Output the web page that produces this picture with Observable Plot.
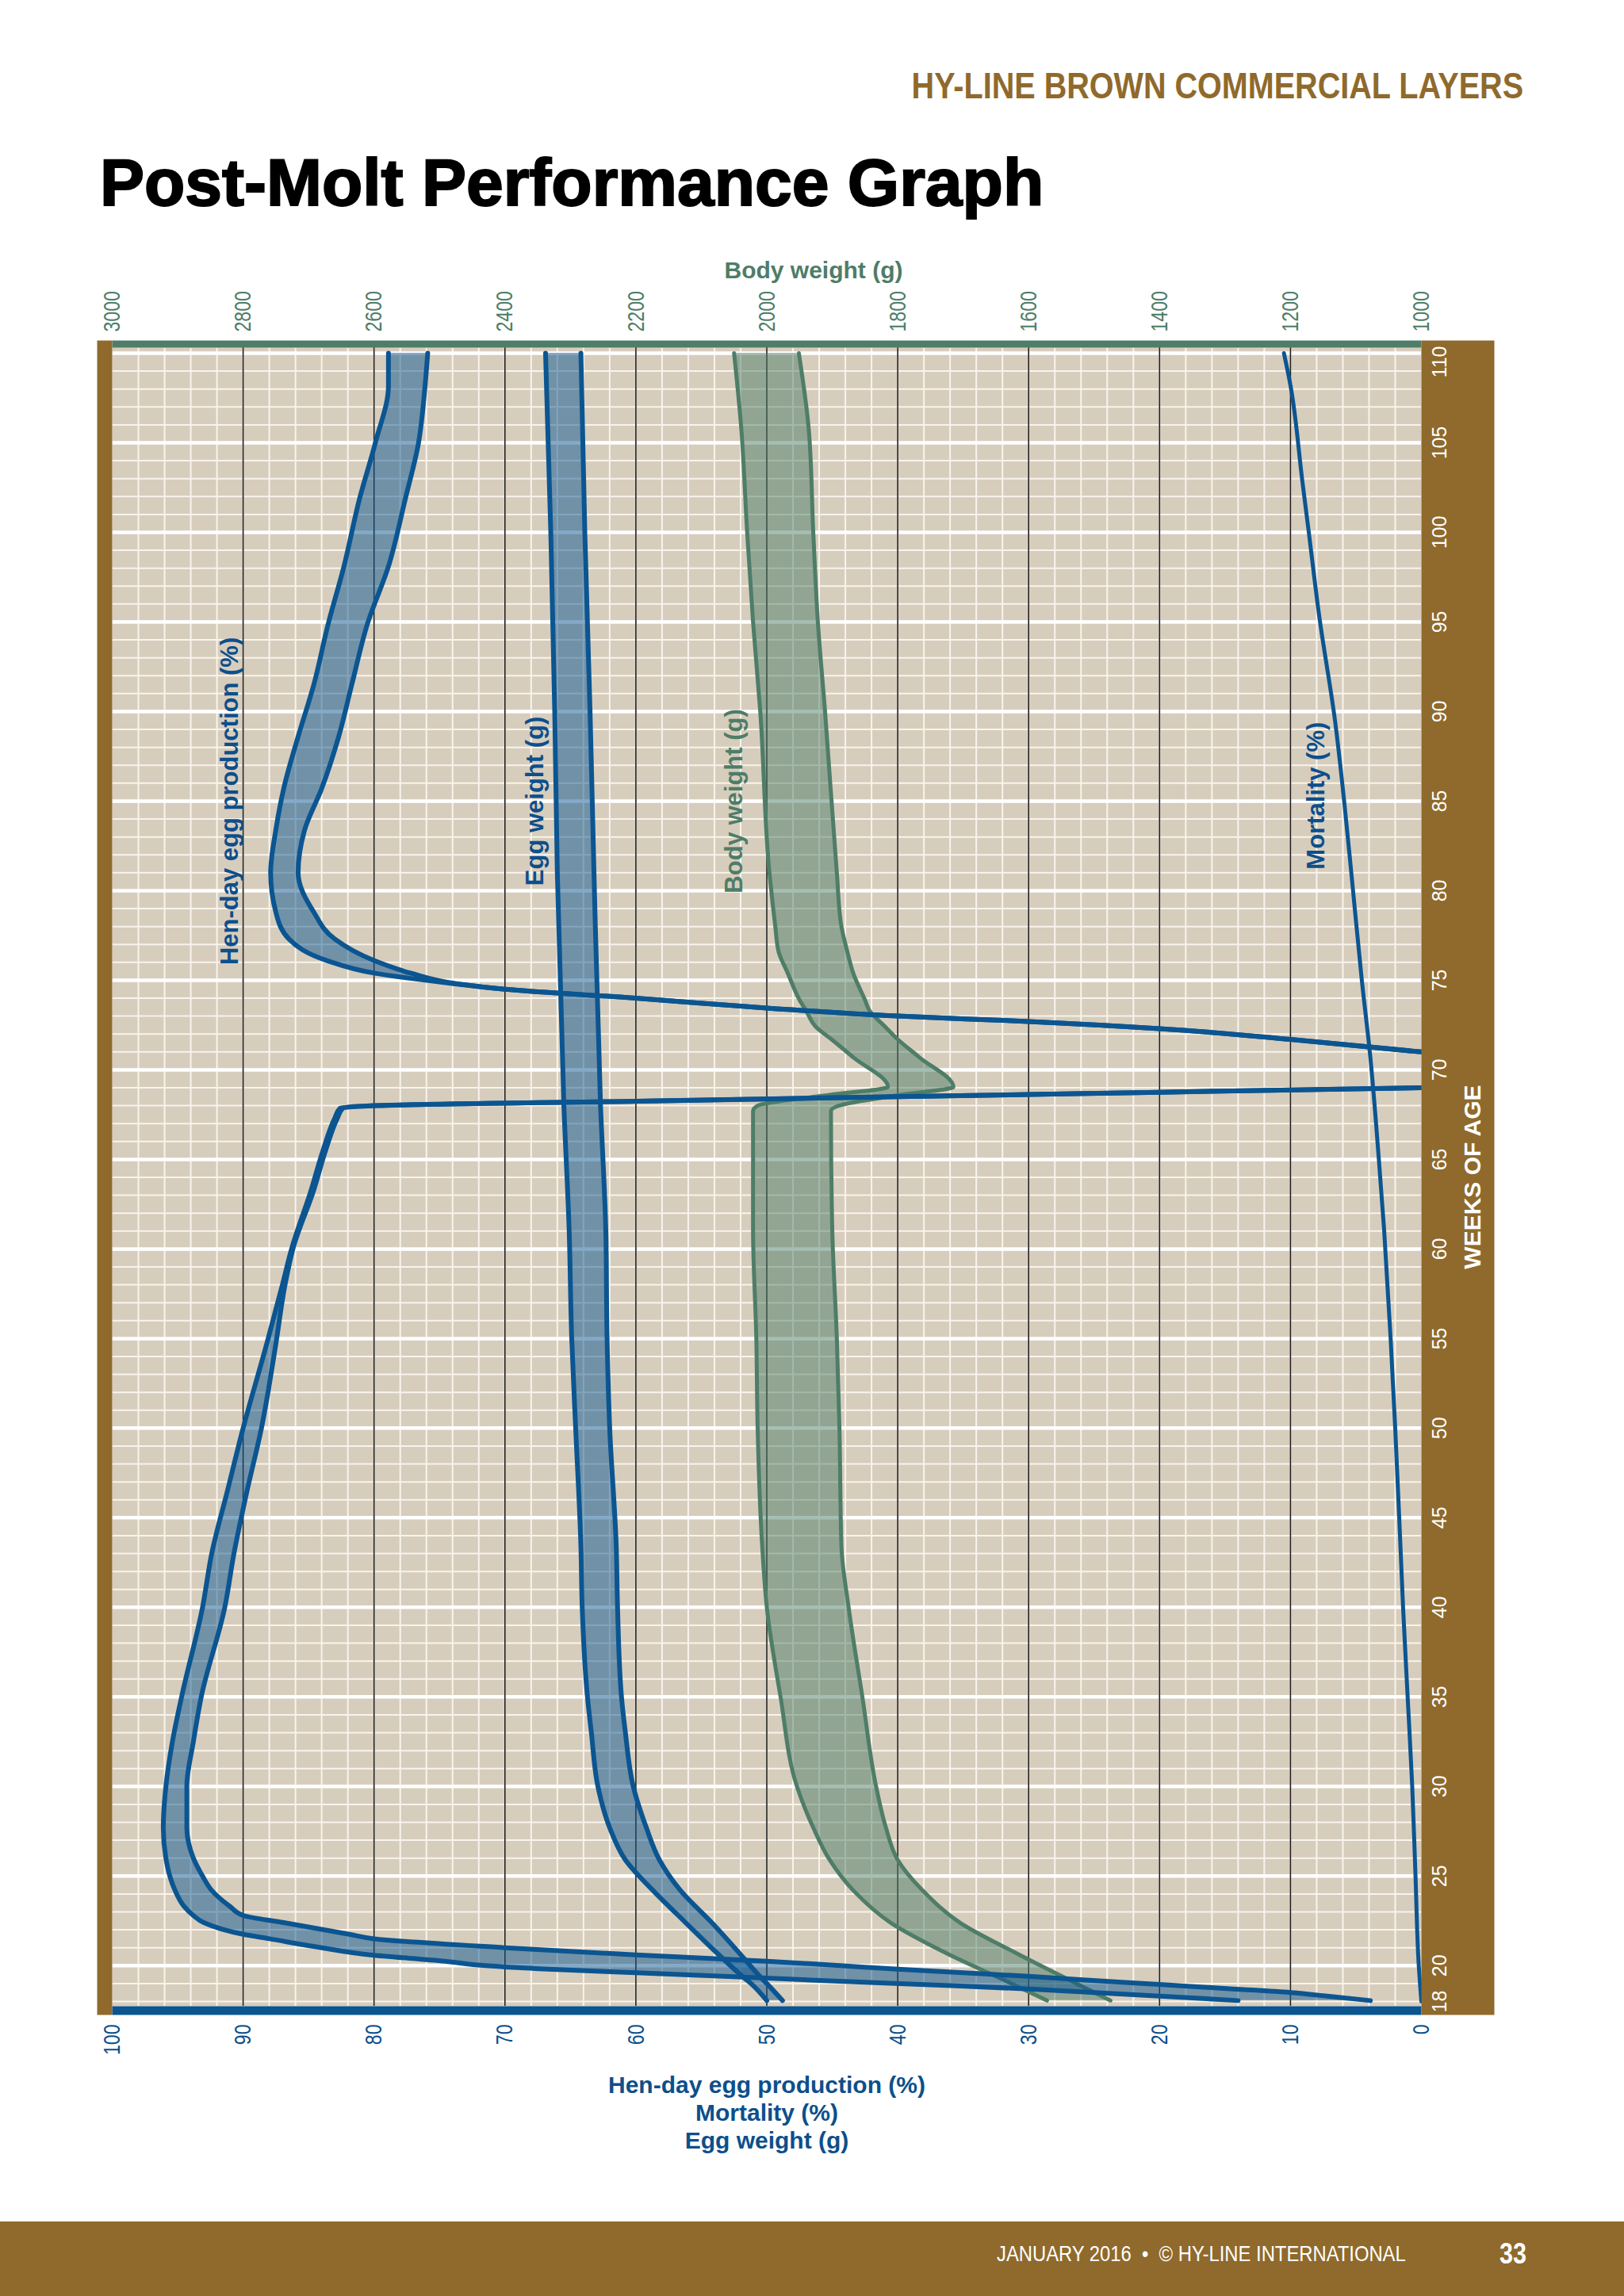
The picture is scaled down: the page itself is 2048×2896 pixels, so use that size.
<!DOCTYPE html>
<html>
<head>
<meta charset="utf-8">
<script src="https://cdn.jsdelivr.net/npm/d3@7"></script>
<script src="https://cdn.jsdelivr.net/npm/@observablehq/plot@0.6"></script>
<style>
html, body { margin: 0; padding: 0; background: #ffffff; }
body { width: 2048px; height: 2896px; position: relative; overflow: hidden; font-family: "Liberation Sans", Arial, sans-serif; }
#header { position: absolute; right: 127px; top: 85px; font-size: 46px; line-height: 46px; font-weight: bold; color: #8f6a2c; white-space: nowrap; transform: scaleX(0.86); transform-origin: right center; }
#title { position: absolute; left: 126px; top: 188px; font-size: 84px; line-height: 84px; font-weight: bold; color: #000; white-space: nowrap; -webkit-text-stroke: 2px #000; }
#chart { position: absolute; left: 0; top: 290px; }
#footer { position: absolute; left: 0; top: 2802px; width: 2048px; height: 94px; background: #8f6a2c; }
#footText { position: absolute; right: 275px; top: 27px; font-size: 28px; line-height: 28px; color: #fff; white-space: pre; transform: scaleX(0.85); transform-origin: right center; }
#pageNum { position: absolute; right: 123px; top: 23px; font-size: 36px; line-height: 36px; font-weight: bold; color: #fff; transform: scaleX(0.85); transform-origin: right center; }
</style>
</head>
<body>
<div id="header">HY-LINE BROWN COMMERCIAL LAYERS</div>
<div id="title">Post-Molt Performance Graph</div>
<div id="chart"></div>
<div id="footer"><div id="footText">JANUARY 2016  •  © HY-LINE INTERNATIONAL</div><div id="pageNum">33</div></div>
<script>
// ---------- DATA ----------
// Hen-day egg production (%) — before molt (band: high / low)
const prodPreWeeks = [18.05, 18.3, 18.5, 18.7, 18.95, 19.2, 19.4, 19.6, 19.8, 20.0, 20.25, 20.6, 21.0, 21.5, 21.75, 22.4, 22.8, 23.3, 24.2, 25, 26, 27.7, 30, 32.5, 35, 40, 43, 46.5, 50, 54.7, 58, 60, 63.3, 65.5, 67.3, 67.85, 68.0, 68.25, 68.5, 68.75, 69.0];
const prodPreHigh  = [14, 20, 25, 30, 38.3, 46.7, 53.3, 60, 66.7, 71.5, 74.6, 80.3, 84, 88, 90, 93, 93.8, 94.5, 95.2, 95.6, 95.9, 96.1, 95.9, 95.4, 94.7, 93.1, 92.4, 91.2, 90.0, 88.2, 87.0, 86.3, 84.8, 83.9, 83.0, 82.6, 80.0, 60, 40, 20, 0];
const prodPreLow   = [3.9, 7.2, 10, 14.4, 20, 25.6, 30, 35, 40, 44.4, 50, 60, 70, 80, 81.9, 86.9, 90, 91.0, 92.4, 93.1, 93.8, 94.3, 94.3, 93.8, 93.2, 91.4, 90.7, 89.7, 88.6, 87.5, 86.8, 86.2, 84.6, 83.7, 82.8, 82.4, 79.8, 59.9, 40, 20, 0];
// Hen-day egg production (%) — after molt
const prodPostWeeks = [71.0, 71.7, 72.3, 72.7, 73.0, 73.45, 74.0, 74.5, 74.8, 75.4, 76.1, 77.3, 78.8, 81, 83.4, 85.7, 88.6, 91.5, 94.9, 98.1, 101.9, 105, 108.2, 110];
const prodPostHigh  = [0, 10, 20, 30, 40, 50, 60, 70, 73.8, 80, 83.6, 86.5, 87.5, 87.9, 87.5, 86.9, 85.8, 84.6, 83.5, 82.3, 81.1, 79.9, 78.9, 78.9];
const prodPostLow   = [0, 10, 20, 30, 40, 50, 60, 70, 73.6, 77.2, 80.0, 83.0, 84.6, 85.8, 85.3, 84.0, 82.7, 81.7, 80.5, 78.9, 77.6, 76.6, 76.1, 75.9];
// Egg weight (g)
const eggWeeks = [18.05, 19.0, 19.3, 20.7, 22.4, 24.2, 25.9, 27.7, 30, 33, 35, 40, 43.4, 50, 55, 61.1, 68, 81, 90, 100, 110];
const eggHigh  = [50.0, 51.2, 51.7, 53.8, 56.2, 58.7, 60.8, 62.0, 62.9, 63.4, 63.7, 64.1, 64.2, 64.6, 64.9, 65.1, 65.5, 66.0, 66.2, 66.5, 66.9];
const eggLow   = [48.8, 50.0, 50.4, 52.1, 54.2, 56.6, 58.2, 59.2, 60.2, 60.8, 61.1, 61.4, 61.5, 62.0, 62.2, 62.3, 62.7, 63.2, 63.5, 63.9, 64.2];
// Body weight (g)
const bwWeeks = [18.05, 19.0, 20.7, 22.4, 24.2, 25.9, 27.7, 30, 35, 40, 43.4, 50, 55, 61.1, 67.7, 68.0, 68.6, 69.05, 70.7, 71.7, 72.4, 73.3, 73.9, 75.4, 76.6, 78, 81, 90, 95, 100, 105.8, 110];
const bwHigh  = [1572, 1626, 1726, 1811, 1868, 1904, 1929, 1954, 1979, 2000, 2007, 2014, 2016, 2021, 2021, 2014, 1904, 1815, 1868, 1901, 1925, 1940, 1950, 1968, 1982, 1987, 1996, 2010, 2021, 2030, 2039, 2050];
const bwLow   = [1475, 1527, 1619, 1705, 1762, 1800, 1818, 1833, 1854, 1875, 1886, 1889, 1893, 1900, 1902, 1890, 1797, 1715, 1767, 1800, 1819, 1843, 1850, 1868, 1877, 1886, 1893, 1911, 1922, 1929, 1936, 1951];
// Mortality (%)
const mortWeeks  = [18, 20, 25, 30, 35, 40, 43.4, 50, 55, 61.1, 65, 70.7, 75, 80.6, 85, 89.5, 95.3, 100, 102.9, 108.2, 110];
const mortValues = [0, 0.2, 0.45, 0.7, 1.05, 1.4, 1.6, 2.0, 2.35, 2.85, 3.25, 3.9, 4.55, 5.3, 5.9, 6.6, 7.8, 8.6, 9.1, 10.0, 10.5];

// Axis ticks and labels
const pctTicks = [0, 10, 20, 30, 40, 50, 60, 70, 80, 90, 100];
const bwTicks = [1000, 1200, 1400, 1600, 1800, 2000, 2200, 2400, 2600, 2800, 3000];
const weekTicks = [18, 20, 25, 30, 35, 40, 45, 50, 55, 60, 65, 70, 75, 80, 85, 90, 95, 100, 105];
const lastWeekTick = [110];
const majorWeeks = [20, 25, 30, 35, 40, 45, 50, 55, 60, 65, 70, 75, 80, 85, 90, 95, 100, 105, 110];
const minorWeeks = d3.range(18, 111);
const minorPct = d3.range(2, 100, 2);
const blackPct = [10, 20, 30, 40, 50, 60, 70, 80, 90];

const blueLabels = [
  {text: "Hen-day egg production (%)", x: 91.0, w: 85},
  {text: "Egg weight (g)", x: 67.7, w: 85},
  {text: "Mortality (%)", x: 8.0, w: 85.3}
];
const greenLabels = [{text: "Body weight (g)", x: 52.5, w: 85}];
const topTitle = "Body weight (g)";
const bottomTitle = "Hen-day egg production (%)\nMortality (%)\nEgg weight (g)";
const sideTitle = "WEEKS OF AGE";

// ---------- BUILD ----------
const blue = "#0b5591", blueText = "#0d4f8b", green = "#4e7d68", brown = "#8f6a2c", tan = "#d7cdbd";
const zip = (weeks, hi, lo) => weeks.map((w, i) => ({w, hi: hi[i], lo: lo[i]}));
const prodPre = zip(prodPreWeeks, prodPreHigh, prodPreLow);
const prodPost = zip(prodPostWeeks, prodPostHigh, prodPostLow);
const egg = zip(eggWeeks, eggHigh, eggLow);
const bw = zip(bwWeeks, bwHigh, bwLow);
const mort = mortWeeks.map((w, i) => ({w, v: mortValues[i]}));
const bwToX = g => (g - 1000) / 20;
const xToBw = x => String(Math.round(1000 + 20 * x));
const curve = "monotone-y";

function band(data, conv, color, sw) {
  return [
    Plot.areaX(data, {y: "w", x1: d => conv(d.lo), x2: d => conv(d.hi), fill: color, fillOpacity: 0.5, curve}),
    Plot.lineX(data, {y: "w", x: d => conv(d.hi), stroke: color, strokeWidth: sw, curve, strokeLinecap: "round", strokeLinejoin: "round"}),
    Plot.lineX(data, {y: "w", x: d => conv(d.lo), stroke: color, strokeWidth: sw, curve, strokeLinecap: "round", strokeLinejoin: "round"})
  ];
}
const id = v => v;

const chart = Plot.plot({
  width: 2048,
  height: 2450,
  marginLeft: 141,
  marginRight: 256,
  marginTop: 148,
  marginBottom: 210,
  x: {domain: [100, 0]},
  y: {domain: [18, 110], insetTop: 7, insetBottom: 6},
  style: {fontFamily: "'Liberation Sans', Arial, sans-serif", fontSize: "23px", background: "transparent", overflow: "visible"},
  marks: [
    Plot.frame({fill: tan}),
    Plot.ruleX(minorPct, {stroke: "#f8f4ec", strokeWidth: 2}),
    Plot.ruleY(minorWeeks, {stroke: "#f8f4ec", strokeWidth: 2}),
    Plot.ruleY(majorWeeks, {stroke: "#ffffff", strokeWidth: 4.5}),
    Plot.ruleX(blackPct, {stroke: "#1e1e1e", strokeWidth: 1.6}),
    ...band(bw, bwToX, green, 5),
    ...band(egg, id, blue, 6),
    ...band(prodPre, id, blue, 6),
    ...band(prodPost, id, blue, 6),
    Plot.lineX(mort, {y: "w", x: "v", stroke: blue, strokeWidth: 5, curve, strokeLinecap: "round"}),
    Plot.text(blueLabels, {x: "x", y: "w", text: "text", rotate: -90, textAnchor: "middle", fill: blueText, fontWeight: "bold", fontSize: 31}),
    Plot.text(greenLabels, {x: "x", y: "w", text: "text", rotate: -90, textAnchor: "middle", fill: green, fontWeight: "bold", fontSize: 31}),
    // frame bars
    Plot.frame({anchor: "top", stroke: green, strokeWidth: 9, insetTop: -4.5, strokeLinecap: "butt"}),
    Plot.frame({anchor: "bottom", stroke: blue, strokeWidth: 11, insetBottom: -5.5, strokeLinecap: "butt"}),
    Plot.frame({anchor: "left", stroke: brown, strokeWidth: 19, insetLeft: -9.5, insetTop: -9, insetBottom: -11, strokeLinecap: "butt"}),
    Plot.frame({anchor: "right", stroke: brown, strokeWidth: 92, insetRight: -46, insetTop: -9, insetBottom: -11, strokeLinecap: "butt"}),
    // axes
    Plot.axisX(pctTicks, {anchor: "bottom", tickSize: 0, tickPadding: 23, tickRotate: -90, textAnchor: "end", lineAnchor: "middle", fill: blueText, fontSize: 30, label: null}),
    Plot.axisX(bwTicks.map(bwToX), {anchor: "top", tickSize: 0, tickPadding: 20, tickRotate: -90, textAnchor: "start", lineAnchor: "middle", fill: green, fontSize: 30, tickFormat: xToBw, label: null}),
    Plot.axisY(weekTicks, {anchor: "right", tickSize: 0, tickPadding: 23, tickRotate: -90, textAnchor: "middle", lineAnchor: "middle", fill: "#ffffff", fontSize: 25, label: null}),
    Plot.text(lastWeekTick, {y: d => d, frameAnchor: "right", dx: 23, dy: 11, rotate: -90, textAnchor: "middle", lineAnchor: "middle", fill: "#ffffff", fontSize: 25}),
    // titles
    Plot.text([topTitle], {frameAnchor: "top", dx: 59, dy: -109, fill: green, fontWeight: "bold", fontSize: 30}),
    Plot.text([bottomTitle], {frameAnchor: "bottom", dy: 133, lineAnchor: "middle", lineHeight: 1.167, fill: blueText, fontWeight: "bold", fontSize: 30}),
    Plot.text([sideTitle], {frameAnchor: "right", dx: 65, rotate: -90, textAnchor: "middle", fill: "#ffffff", fontWeight: "bold", fontSize: 30})
  ]
});
// condensed look for the percent / body-weight tick labels
d3.select(chart).selectAll('g[aria-label="x-axis tick label"] text').each(function() {
  const t = this.getAttribute("transform") || "";
  this.setAttribute("transform", t + " scale(0.77,1)");
});
document.getElementById("chart").appendChild(chart);
</script>
</body>
</html>
